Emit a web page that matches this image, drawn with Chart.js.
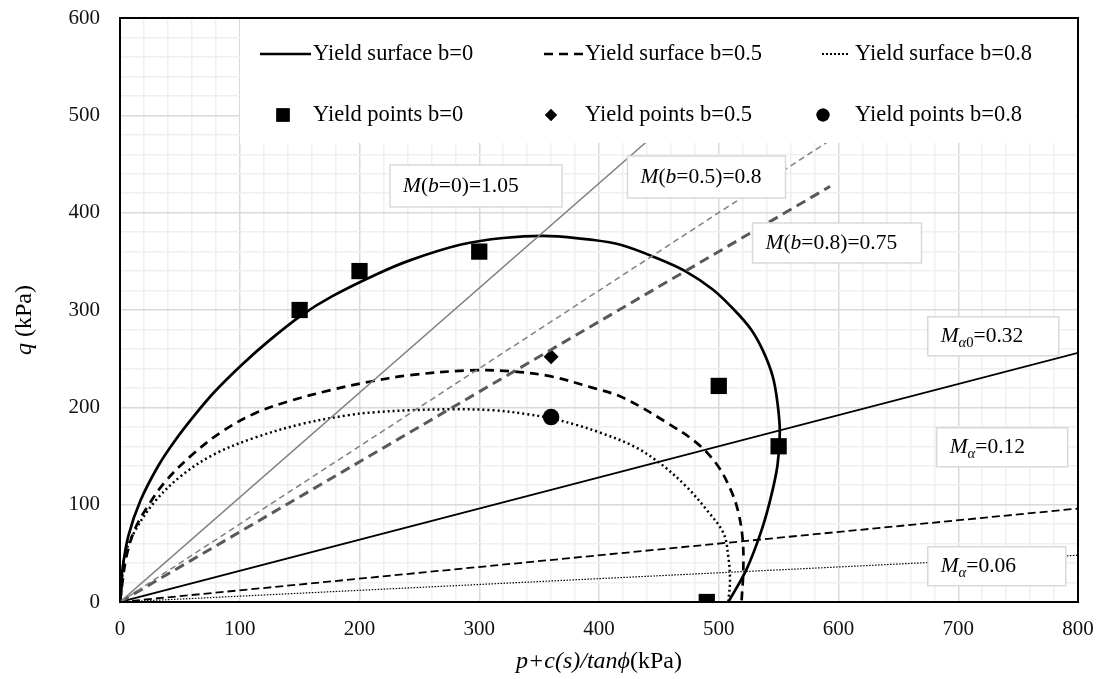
<!DOCTYPE html>
<html>
<head>
<meta charset="utf-8">
<title>Yield surfaces</title>
<script src="https://cdn.jsdelivr.net/npm/chart.js@4.4.0/dist/chart.umd.min.js"></script>
<style>
  html, body { margin: 0; padding: 0; background: #fff; }
  #wrap { width: 1100px; height: 679px; }
</style>
</head>
<body>
<div id="wrap"><canvas id="yieldChart" width="1100" height="679"></canvas></div>
<script>
// axis ticks
var pMajorTicks = [0, 100, 200, 300, 400, 500, 600, 700, 800];
var qMajorTicks = [0, 100, 200, 300, 400, 500, 600];

// yield surfaces, [p, q]
var surfaceB0 = [[0, 0], [1, 10], [2, 33], [7, 68], [17, 104], [32, 140], [46, 166], [63, 193], [79, 216],
  [102, 244], [124, 268], [152, 295], [177, 314], [213, 336], [242, 351], [284, 367], [320, 374], [359, 376],
  [395, 372], [418, 367], [447, 354], [472, 340], [495, 321], [513, 300], [527, 280], [537, 258], [545, 232],
  [549, 205], [551, 175], [549, 140], [543, 105], [535, 71], [523, 33], [508, 0]];
var surfaceB05 = [[0, 0], [2, 20], [5.6, 48], [12.5, 75], [24, 100], [38, 124], [60, 151], [85, 175], [113, 194],
  [143, 207], [177, 218], [207, 226], [242, 233], [292, 238], [326, 237], [359, 232], [395, 220], [420, 210],
  [457, 184], [482, 163], [498, 142], [509, 118], [516, 94], [520, 64], [520.5, 33], [519, 0]];
var surfaceB08 = [[0, 0], [1.5, 20], [4, 48], [12.5, 73], [29, 103], [51.5, 130], [79, 152], [113, 169], [152, 183],
  [191, 192], [213, 195], [242, 197], [278, 198], [312, 197], [340, 193], [359, 189], [381, 182], [401, 174],
  [429, 160], [451, 142.5], [473, 118.5], [490, 94.5], [504, 70.6], [508, 46.5], [509.4, 22.6], [508, 0]];

// test points
var pointsB0 = [[150, 300], [200, 340], [300, 360], [500, 222], [550, 160], [490, 0]];
var pointsB05 = [[360, 252]];
var pointsB08 = [[360, 190]];

// straight lines through the origin
var lineMb0 = [[0, 0], [558, 600]];
var lineMb05 = [[0, 0], [750, 600]];
var lineMb08 = [[0, 0], [593, 427]];
var lineMa0 = [[0, 0], [800, 256]];
var lineMa12 = [[0, 0], [800, 96]];
var lineMa06 = [[0, 0], [800, 48]];

var serif = "'Liberation Serif', 'Times New Roman', serif";

function toXY(arr) {
  return arr.map(function (d) { return { x: d[0], y: d[1] }; });
}

function lineSet(label, arr, color, width, dash, tension) {
  return {
    label: label,
    data: toXY(arr),
    showLine: true,
    borderColor: color,
    backgroundColor: color,
    borderWidth: width,
    borderDash: dash,
    pointRadius: 0,
    pointHoverRadius: 0,
    tension: tension || 0,
    fill: false,
  };
}

function pointSet(label, arr, style, radius) {
  return {
    label: label,
    data: toXY(arr),
    showLine: false,
    pointStyle: style,
    pointRadius: radius,
    pointBackgroundColor: '#000',
    pointBorderColor: '#000',
    pointBorderWidth: 0,
  };
}

// rich text: segments {t, it, sub}
function drawRich(ctx, segs, x, y, size) {
  segs.forEach(function (s) {
    var fs = s.sub ? size * 0.68 : size;
    ctx.font = (s.it ? 'italic ' : '') + fs + 'px ' + serif;
    ctx.fillText(s.t, x, y + (s.sub ? size * 0.32 : 0));
    x += ctx.measureText(s.t).width;
  });
  return x;
}
function richWidth(ctx, segs, size) {
  var w = 0;
  segs.forEach(function (s) {
    ctx.font = (s.it ? 'italic ' : '') + (s.sub ? size * 0.68 : size) + 'px ' + serif;
    w += ctx.measureText(s.t).width;
  });
  return w;
}

// text boxes, anchored at their top-left corner in data units
var notes = [
  { segs: [{ t: 'M', it: 1 }, { t: '(' }, { t: 'b', it: 1 }, { t: '=0)=1.05' }], p: 225.5, q: 449, w: 172, h: 42 },
  { segs: [{ t: 'M', it: 1 }, { t: '(' }, { t: 'b', it: 1 }, { t: '=0.5)=0.8' }], p: 423.8, q: 458.2, w: 158, h: 42 },
  { segs: [{ t: 'M', it: 1 }, { t: '(' }, { t: 'b', it: 1 }, { t: '=0.8)=0.75' }], p: 528.2, q: 389.4, w: 169, h: 40 },
  { segs: [{ t: 'M', it: 1 }, { t: 'α', it: 1, sub: 1 }, { t: '0', sub: 1 }, { t: '=0.32' }], p: 674.5, q: 293, w: 131, h: 39 },
  { segs: [{ t: 'M', it: 1 }, { t: 'α', it: 1, sub: 1 }, { t: '=0.12' }], p: 682, q: 179, w: 131, h: 39 },
  { segs: [{ t: 'M', it: 1 }, { t: 'α', it: 1, sub: 1 }, { t: '=0.06' }], p: 674.5, q: 56.8, w: 138, h: 39 },
];

var decorPlugin = {
  id: 'decor',
  afterDatasetsDraw: function (chart) {
    var ctx = chart.ctx, a = chart.chartArea;
    var xs = chart.scales.x, ys = chart.scales.y;
    ctx.save();

    // note boxes
    notes.forEach(function (n) {
      var bx = xs.getPixelForValue(n.p), by = ys.getPixelForValue(n.q);
      ctx.fillStyle = '#fff';
      ctx.fillRect(bx, by, n.w, n.h);
      ctx.strokeStyle = '#d9d9d9';
      ctx.lineWidth = 1.5;
      ctx.strokeRect(bx, by, n.w, n.h);
      ctx.fillStyle = '#000';
      ctx.textBaseline = 'middle';
      ctx.textAlign = 'left';
      drawRich(ctx, n.segs, bx + 13, by + n.h / 2, 21.5);
    });

    // legend box
    var lx = a.left + 120, ly = a.top, lw = 836, lh = 125;
    ctx.fillStyle = '#fff';
    ctx.fillRect(lx, ly, lw, lh);
    ctx.fillStyle = '#000';
    ctx.strokeStyle = '#000';
    ctx.font = '22.5px ' + serif;
    ctx.textBaseline = 'middle';
    var r1 = ly + 36, r2 = ly + 97;
    var samples = [
      { x0: a.left + 140, x1: a.left + 191, dash: [], w: 2.5, tx: a.left + 193, text: 'Yield surface b=0' },
      { x0: a.left + 424, x1: a.left + 463, dash: [9, 6], w: 2.5, tx: a.left + 465, text: 'Yield surface b=0.5' },
      { x0: a.left + 702, x1: a.left + 729, dash: [2, 2], w: 2, tx: a.left + 735, text: 'Yield surface b=0.8' },
    ];
    samples.forEach(function (s) {
      ctx.beginPath();
      ctx.setLineDash(s.dash);
      ctx.lineWidth = s.w;
      ctx.moveTo(s.x0, r1);
      ctx.lineTo(s.x1, r1);
      ctx.stroke();
      ctx.setLineDash([]);
      ctx.fillText(s.text, s.tx, r1);
    });
    var marks = [
      { style: 'rect', r: 9.4, cx: a.left + 163, tx: a.left + 193, text: 'Yield points b=0' },
      { style: 'rectRot', r: 6, cx: a.left + 431, tx: a.left + 465, text: 'Yield points b=0.5' },
      { style: 'circle', r: 6.5, cx: a.left + 703, tx: a.left + 735, text: 'Yield points b=0.8' },
    ];
    marks.forEach(function (m) {
      Chart.helpers.drawPoint(ctx, { pointStyle: m.style, radius: m.r, rotation: 0, borderWidth: 0 }, m.cx, r2);
      ctx.fill();
      ctx.fillText(m.text, m.tx, r2);
    });

    // plot frame
    ctx.strokeStyle = '#000';
    ctx.lineWidth = 2;
    ctx.strokeRect(a.left, a.top, a.right - a.left, a.bottom - a.top);

    // axis titles
    var xt = [{ t: 'p+c(s)/tanϕ', it: 1 }, { t: '(kPa)' }];
    var w = richWidth(ctx, xt, 24);
    ctx.fillStyle = '#000';
    drawRich(ctx, xt, (a.left + a.right) / 2 - w / 2, 662, 24);

    var yt = [{ t: 'q', it: 1 }, { t: ' (kPa)' }];
    w = richWidth(ctx, yt, 24);
    ctx.translate(25, (a.top + a.bottom) / 2 + 10);
    ctx.rotate(-Math.PI / 2);
    drawRich(ctx, yt, -w / 2, 0, 24);
    ctx.restore();
  }
};

function gridColor(c) {
  return c.tick && c.tick.value % 100 === 0 ? '#d9d9d9' : '#efefef';
}

var ctx = document.getElementById('yieldChart').getContext('2d');
var yieldChart = new Chart(ctx, {
  type: 'scatter',
  data: {
    datasets: [
      lineSet('M(b=0)=1.05', lineMb0, '#808080', 1.5, []),
      lineSet('M(b=0.5)=0.8', lineMb05, '#808080', 1.5, [6, 4]),
      lineSet('M(b=0.8)=0.75', lineMb08, '#595959', 3, [10, 6]),
      lineSet('Ma0=0.32', lineMa0, '#000', 1.8, []),
      lineSet('Ma=0.12', lineMa12, '#000', 1.8, [8, 4]),
      lineSet('Ma=0.06', lineMa06, '#000', 1.2, [1.5, 1.5]),
      lineSet('Yield surface b=0', surfaceB0, '#000', 2.7, [], 0.35),
      lineSet('Yield surface b=0.5', surfaceB05, '#000', 2.7, [9, 6], 0.35),
      lineSet('Yield surface b=0.8', surfaceB08, '#000', 2.5, [2, 3], 0.35),
      pointSet('Yield points b=0', pointsB0, 'rect', 11.5),
      pointSet('Yield points b=0.5', pointsB05, 'rectRot', 7.5),
      pointSet('Yield points b=0.8', pointsB08, 'circle', 8.3),
    ],
  },
  options: {
    responsive: false,
    animation: false,
    layout: { padding: { top: 18, right: 22, left: 0, bottom: 0 } },
    plugins: { legend: { display: false }, tooltip: { enabled: false } },
    scales: {
      x: {
        type: 'linear',
        min: 0,
        max: 800,
        afterFit: function (s) { s.height = 77; s.paddingLeft = 0; s.paddingRight = 0; },
        grid: { drawTicks: false, color: gridColor, lineWidth: 1.5 },
        border: { display: false },
        ticks: {
          stepSize: 20,
          autoSkip: false,
          maxRotation: 0,
          padding: 15,
          color: '#111',
          font: { family: serif, size: 21 },
          callback: function (v) { return pMajorTicks.indexOf(v) >= 0 ? String(v) : ''; },
        },
      },
      y: {
        type: 'linear',
        min: 0,
        max: 600,
        afterFit: function (s) { s.width = 120; s.paddingTop = 0; s.paddingBottom = 0; },
        grid: { drawTicks: false, color: gridColor, lineWidth: 1.5 },
        border: { display: false },
        ticks: {
          stepSize: 20,
          autoSkip: false,
          padding: 20,
          color: '#111',
          font: { family: serif, size: 21 },
          callback: function (v) { return qMajorTicks.indexOf(v) >= 0 ? String(v) : ''; },
        },
      },
    },
  },
  plugins: [decorPlugin],
});
</script>
</body>
</html>
